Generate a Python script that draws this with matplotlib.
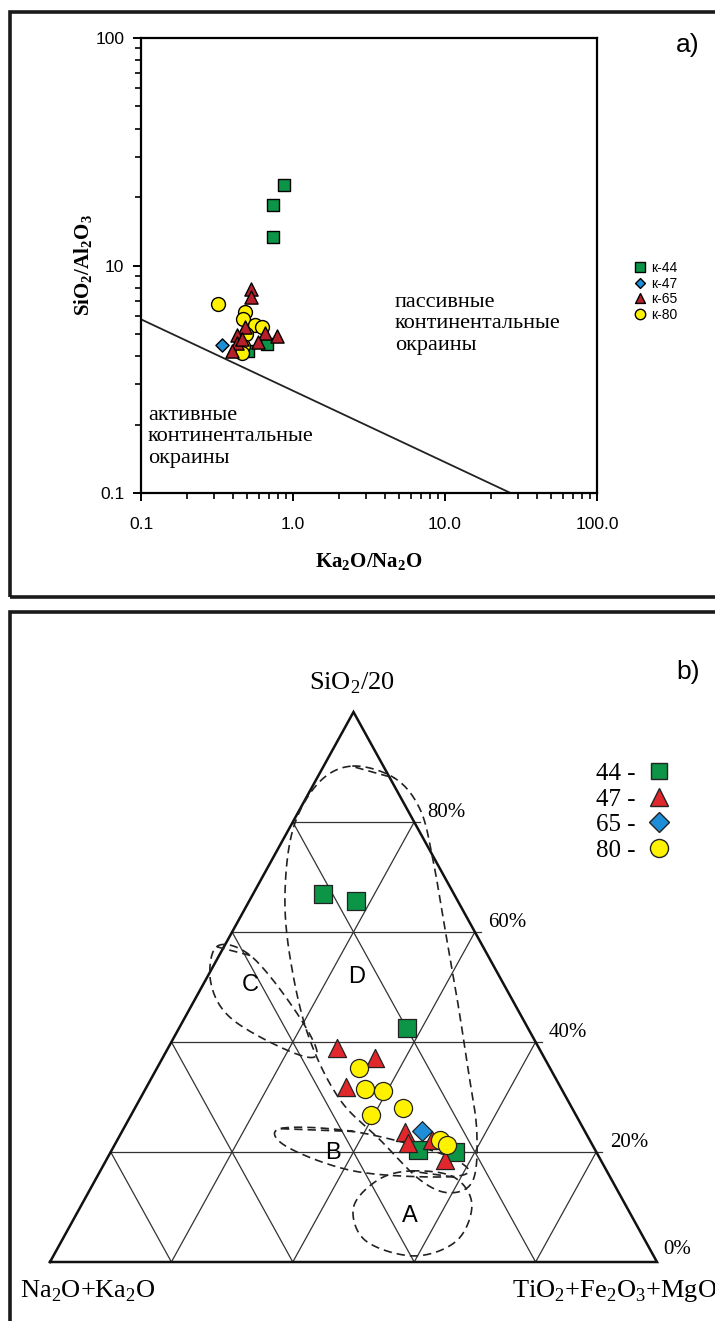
import matplotlib.pyplot as plt
import numpy as np
from matplotlib.patches import Rectangle
from matplotlib.lines import Line2D

plt.rcParams['mathtext.fontset'] = 'custom'
plt.rcParams['mathtext.rm'] = 'Liberation Serif'
plt.rcParams['mathtext.bf'] = 'Liberation Serif:bold'

# ---- a) K2O/Na2O vs SiO2/Al2O3 ----
k44_x = [0.873, 0.738, 0.738, 0.675, 0.506]
k44_y = [22.6, 18.5, 13.4, 4.5, 4.2]
k47_x = [0.341]
k47_y = [4.45]
k65_x = [0.530, 0.530, 0.483, 0.429, 0.655, 0.785, 0.589, 0.429, 0.397, 0.461]
k65_y = [7.85, 7.24, 5.35, 4.93, 5.04, 4.88, 4.59, 4.55, 4.20, 4.73]
k80_x = [0.321, 0.483, 0.469, 0.562, 0.625, 0.491, 0.469, 0.461]
k80_y = [6.75, 6.22, 5.80, 5.46, 5.35, 4.98, 4.41, 4.11]
boundary_x = [0.1, 27.0]
boundary_y = [5.8, 1.0]
x_ticks = [0.1, 1, 10, 100]
x_ticklabels = ['0.1', '1.0', '10.0', '100.0']
y_ticks = [1, 10, 100]
y_ticklabels = ['0.1', '10', '100']

# ---- b) ternary, shares in % (SiO2/20 on top, TiO2+Fe2O3+MgO on right) ----
t44 = [66.9, 65.6, 42.5, 20.4, 20.0]
r44 = [11.5, 17.6, 37.6, 50.4, 56.7]
t47 = [38.9, 37.1, 31.8, 23.6, 21.6, 22.2, 18.5]
r47 = [27.8, 35.0, 32.9, 46.7, 48.2, 51.8, 55.8]
t65 = [23.8]
r65 = [49.4]
t80 = [35.3, 31.5, 31.1, 26.7, 28.0, 22.2, 21.3]
r80 = [33.3, 36.2, 39.3, 39.5, 44.2, 53.1, 54.8]
grid_levels = [20, 40, 60, 80]

# field outlines (diagram units: base = 0..1)
field_D = [(0.498, 0.817), (0.568, 0.797), (0.610, 0.745), (0.631, 0.662),
           (0.651, 0.547), (0.671, 0.432), (0.689, 0.316), (0.703, 0.217),
           (0.697, 0.135), (0.659, 0.114), (0.610, 0.135), (0.544, 0.201),
           (0.478, 0.267), (0.428, 0.366), (0.399, 0.481), (0.387, 0.596),
           (0.400, 0.712), (0.442, 0.789)]
field_C = [(0.275, 0.520), (0.330, 0.505), (0.400, 0.420), (0.440, 0.345),
           (0.400, 0.345), (0.300, 0.400), (0.265, 0.460)]
field_B = [(0.380, 0.220), (0.500, 0.215), (0.640, 0.180), (0.690, 0.150),
           (0.640, 0.140), (0.500, 0.150), (0.390, 0.190)]
field_A = [(0.595, 0.150), (0.665, 0.140), (0.695, 0.095), (0.670, 0.035),
           (0.600, 0.010), (0.520, 0.035), (0.500, 0.090), (0.540, 0.135)]

GREEN = '#0c9447'
RED_A = '#b5202a'
RED_B = '#e0282c'
BLUE = '#1e8ed8'
YELLOW = '#fff200'

W, Hpx = 715, 1321
fig = plt.figure(figsize=(W / 100, Hpx / 100), dpi=100)


def fx(px):
    return px / W


def fy(py):
    return 1 - py / Hpx


def smooth_closed(pts, n=40):
    # periodic Catmull-Rom through the outline points
    p = np.asarray(pts, dtype=float)
    k = len(p)
    out = []
    for i in range(k):
        p0, p1, p2, p3 = p[i - 1], p[i], p[(i + 1) % k], p[(i + 2) % k]
        s = np.linspace(0, 1, n, endpoint=False)[:, None]
        out.append(0.5 * (2 * p1 + (-p0 + p2) * s
                          + (2 * p0 - 5 * p1 + 4 * p2 - p3) * s ** 2
                          + (-p0 + 3 * p1 - 3 * p2 + p3) * s ** 3))
    out = np.vstack(out + [p[1:2]])
    return out[:, 0], out[:, 1]


# panel frames
for y0, y1 in [(12, 597), (612, 1340)]:
    fig.patches.append(Rectangle((fx(10), fy(y1)), fx(740) - fx(10), fy(y0) - fy(y1),
                                 transform=fig.transFigure, fill=False,
                                 lw=2.6, ec='#1a1a1a'))

# ---------- panel a ----------
ax = fig.add_axes([fx(141), fy(493), (597 - 141) / W, (493 - 38) / Hpx])
ax.set_xscale('log')
ax.set_yscale('log')
ax.set_xlim(0.1, 100)
ax.set_ylim(1, 100)
for s in ax.spines.values():
    s.set_linewidth(1.6)
ax.set_xticks(x_ticks)
ax.set_xticklabels(x_ticklabels)
ax.set_yticks(y_ticks)
ax.set_yticklabels(y_ticklabels)
ax.tick_params(which='major', direction='out', length=6, width=1.4,
               labelsize=12.5, pad=11)
ax.tick_params(axis='y', which='major', pad=6)
ax.tick_params(which='minor', direction='out', length=4, width=1.2)
for lab in ax.get_xticklabels() + ax.get_yticklabels():
    lab.set_fontfamily('Liberation Sans')

ax.plot(boundary_x, boundary_y, color='#222222', lw=1.3)

ax.scatter(k44_x, k44_y, marker='s', s=80, c=GREEN, edgecolors='black',
           linewidths=1.0, zorder=3, label='к-44')
ax.scatter(k47_x, k47_y, marker='D', s=45, c=BLUE, edgecolors='black',
           linewidths=1.0, zorder=3, label='к-47')
ax.scatter(k65_x, k65_y, marker='^', s=90, c=RED_A, edgecolors='black',
           linewidths=1.0, zorder=4, label='к-65')
ax.scatter(k80_x, k80_y, marker='o', s=100, c=YELLOW, edgecolors='black',
           linewidths=1.0, zorder=3, label='к-80')

ax.set_xlabel(r'Ka$_\mathbf{2}$O/Na$_\mathbf{2}$O', fontfamily='Liberation Serif',
              fontweight='bold', fontsize=15, labelpad=14)
ax.set_ylabel(r'SiO$_\mathbf{2}$/Al$_\mathbf{2}$O$_\mathbf{3}$',
              fontfamily='Liberation Serif', fontweight='bold', fontsize=15,
              labelpad=0)

ax.legend(loc='upper left', bbox_to_anchor=(fx(626), fy(254)),
          bbox_transform=fig.transFigure, frameon=False,
          prop={'family': 'Liberation Sans', 'size': 10},
          handletextpad=0.3, labelspacing=0.12, borderpad=0,
          scatteryoffsets=[0.5], markerscale=0.75, handlelength=1.0)

fig.text(fx(395), fy(324), 'пассивные\nконтинентальные\nокраины',
         fontfamily='Liberation Serif', fontsize=16, va='center')
fig.text(fx(148), fy(437), 'активные\nконтинентальные\nокраины',
         fontfamily='Liberation Serif', fontsize=16, va='center')
fig.text(fx(688), fy(45), 'a)', fontfamily='Liberation Sans', fontsize=19,
         ha='center', va='center')

# ---------- panel b ----------
H = 550 / 607
tx = fig.add_axes([fx(50), fy(1262), 607 / W, 550 / Hpx])
tx.set_xlim(0, 1)
tx.set_ylim(0, H)
tx.axis('off')


def tern(t, r):
    t = np.asarray(t) / 100.0
    r = np.asarray(r) / 100.0
    return r + t / 2, t * H


tx.plot([0, 1, 0.5, 0], [0, 0, H, 0], color='#111111', lw=1.8,
        solid_joinstyle='miter', zorder=2, clip_on=False)
for g in grid_levels:
    f = g / 100
    tx.plot([f / 2, 1 - f / 2 + 0.01], [f * H, f * H], color='#333333', lw=0.9, zorder=1)
    tx.plot([f, f + (1 - f) / 2], [0, (1 - f) * H], color='#333333', lw=0.9, zorder=1)
    tx.plot([1 - f, (1 - f) / 2], [0, (1 - f) * H], color='#333333', lw=0.9, zorder=1)
    tx.text(1 - f / 2 + 0.022, f * H + 0.016, f'{g}%', fontfamily='Liberation Serif',
            fontsize=15, ha='left', va='center')
tx.text(1.01, 0.02, '0%', fontfamily='Liberation Serif', fontsize=15,
        ha='left', va='center', clip_on=False)

for outline in (field_D, field_C, field_B, field_A):
    xs, ys = smooth_closed(outline)
    tx.plot(xs, ys, color='#222222', lw=1.2, ls=(0, (5, 3)), zorder=2)

for name, px, py in [('D', 357, 977), ('C', 250, 985), ('B', 333, 1153), ('A', 410, 1216)]:
    tx.text((px - 50) / 607, (1262 - py) / 607, name, fontfamily='Liberation Sans',
            fontsize=17, ha='center', va='center')

x44, y44 = tern(t44, r44)
x47, y47 = tern(t47, r47)
x65, y65 = tern(t65, r65)
x80, y80 = tern(t80, r80)
tx.scatter(x44, y44, marker='s', s=150, c=GREEN, edgecolors='#222222', linewidths=0.9, zorder=4)
tx.scatter(x47, y47, marker='^', s=170, c=RED_B, edgecolors='#222222', linewidths=0.9, zorder=4)
tx.scatter(x65, y65, marker='D', s=100, c=BLUE, edgecolors='#222222', linewidths=0.9, zorder=5)
tx.scatter(x80, y80, marker='o', s=170, c=YELLOW, edgecolors='#222222', linewidths=0.9, zorder=4)

fig.text(fx(352), fy(683), r'SiO$_2$/20', fontfamily='Liberation Serif',
         fontsize=19, ha='center', va='center')
fig.text(fx(20), fy(1291), r'Na$_2$O+Ka$_2$O', fontfamily='Liberation Serif',
         fontsize=19, ha='left', va='center')
fig.text(fx(512), fy(1291), r'TiO$_2$+Fe$_2$O$_3$+MgO', fontfamily='Liberation Serif',
         fontsize=19, ha='left', va='center')
fig.text(fx(688), fy(672), 'b)', fontfamily='Liberation Sans', fontsize=19,
         ha='center', va='center')

handles = [
    Line2D([], [], ls='none', marker='s', ms=12, mfc=GREEN, mec='#222222'),
    Line2D([], [], ls='none', marker='^', ms=13, mfc=RED_B, mec='#222222'),
    Line2D([], [], ls='none', marker='D', ms=10, mfc=BLUE, mec='#222222'),
    Line2D([], [], ls='none', marker='o', ms=13, mfc=YELLOW, mec='#222222'),
]
fig.legend(handles, ['44 -', '47 -', '65 -', '80 -'], loc='upper left',
           bbox_to_anchor=(fx(584), fy(750)), frameon=False, markerfirst=False,
           prop={'family': 'Liberation Serif', 'size': 18},
           handletextpad=0.3, labelspacing=0.12, borderpad=0, handlelength=1.2)

fig.savefig('out.png', dpi=100)
